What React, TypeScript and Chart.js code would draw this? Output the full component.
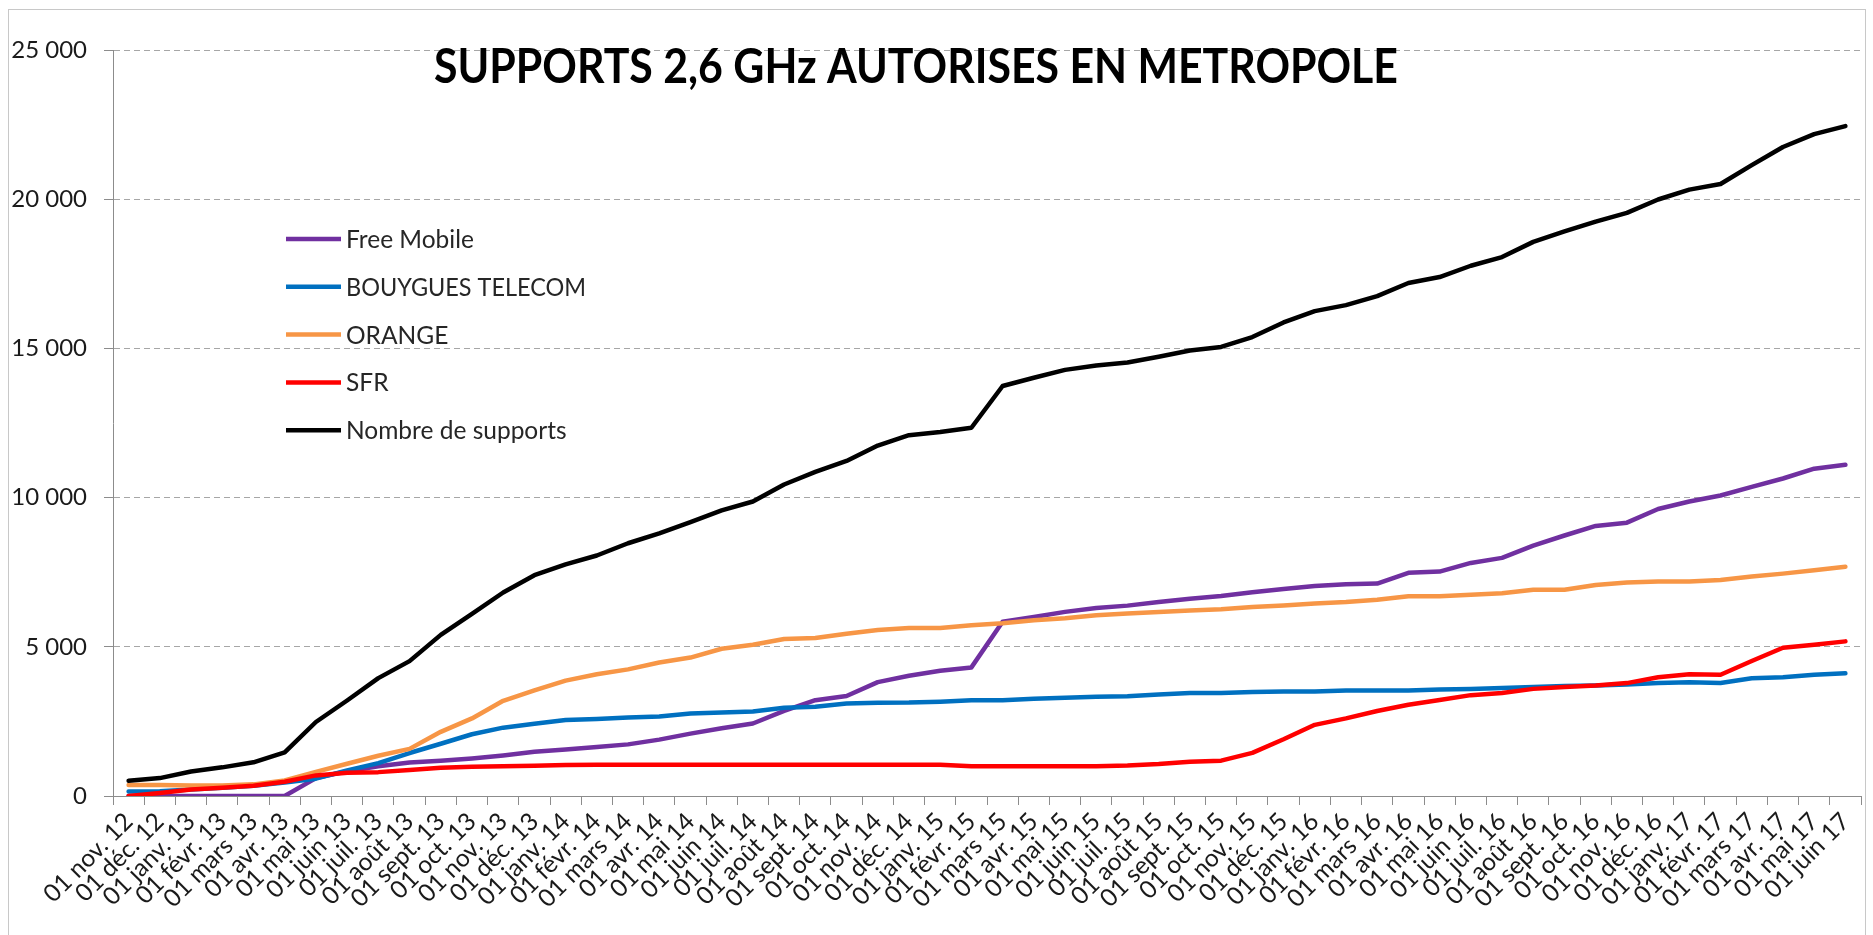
import React, { useEffect, useRef } from 'react';
import { Chart, registerables } from 'chart.js';

Chart.register(...registerables);

const LABELS = [
  '01 nov. 12', '01 déc. 12',
  '01 janv. 13', '01 févr. 13', '01 mars 13', '01 avr. 13', '01 mai 13', '01 juin 13',
  '01 juil. 13', '01 août 13', '01 sept. 13', '01 oct. 13', '01 nov. 13', '01 déc. 13',
  '01 janv. 14', '01 févr. 14', '01 mars 14', '01 avr. 14', '01 mai 14', '01 juin 14',
  '01 juil. 14', '01 août 14', '01 sept. 14', '01 oct. 14', '01 nov. 14', '01 déc. 14',
  '01 janv. 15', '01 févr. 15', '01 mars 15', '01 avr. 15', '01 mai 15', '01 juin 15',
  '01 juil. 15', '01 août 15', '01 sept. 15', '01 oct. 15', '01 nov. 15', '01 déc. 15',
  '01 janv. 16', '01 févr. 16', '01 mars 16', '01 avr. 16', '01 mai 16', '01 juin 16',
  '01 juil. 16', '01 août 16', '01 sept. 16', '01 oct. 16', '01 nov. 16', '01 déc. 16',
  '01 janv. 17', '01 févr. 17', '01 mars 17', '01 avr. 17', '01 mai 17', '01 juin 17',
];

const FREE_MOBILE = [
  0, 0, 0, 0, 0, 0, 600, 830, 1000, 1120, 1180, 1260, 1360, 1480,
  1560, 1640, 1730, 1890, 2090, 2270, 2430, 2850, 3210, 3350, 3816, 4030,
  4195, 4310, 5840, 6000, 6170, 6300, 6380, 6500, 6610, 6700, 6830, 6940,
  7040, 7100, 7120, 7480, 7520, 7810, 7980, 8390, 8730, 9050, 9160, 9620,
  9870, 10070, 10360, 10640, 10970, 11100,
];

const BOUYGUES = [
  150, 160, 220, 280, 340, 450, 580, 860, 1100, 1440, 1750, 2070, 2290, 2420,
  2550, 2583, 2632, 2665, 2764, 2797, 2829, 2961, 2994, 3100, 3126, 3130,
  3158, 3208, 3210, 3257, 3290, 3323, 3339, 3405, 3455, 3455, 3488, 3504,
  3504, 3537, 3537, 3537, 3570, 3586, 3619, 3652, 3690, 3701, 3734, 3783,
  3816, 3790, 3948, 3981, 4063, 4113,
];

const ORANGE = [
  370, 370, 350, 350, 390, 520, 810, 1080, 1350, 1580, 2150, 2600, 3190, 3540,
  3866, 4080, 4244, 4474, 4640, 4935, 5067, 5264, 5297, 5440, 5560, 5626,
  5630, 5725, 5790, 5890, 5955, 6054, 6119, 6169, 6218, 6260, 6333, 6383,
  6448, 6498, 6580, 6695, 6695, 6745, 6794, 6909, 6909, 7074, 7156, 7189,
  7189, 7238, 7353, 7452, 7567, 7682,
];

const SFR = [
  0, 100, 220, 280, 340, 480, 690, 780, 800, 870, 950, 980, 1000, 1010,
  1040, 1050, 1050, 1050, 1050, 1050, 1050, 1050, 1050, 1050, 1050, 1050,
  1050, 1000, 1000, 1000, 1000, 1000, 1020, 1070, 1150, 1184, 1447, 1900,
  2385, 2600, 2850, 3060, 3220, 3380, 3455, 3590, 3652, 3701, 3783, 3981,
  4080, 4063, 4524, 4968, 5067, 5182,
];

const TOTAL = [
  510, 600, 820, 960, 1130, 1460, 2480, 3200, 3950, 4520, 5400, 6100, 6820, 7400,
  7760, 8060, 8470, 8800, 9180, 9570, 9870, 10440, 10860, 11230, 11745, 12090,
  12200, 12340, 13740, 14015, 14280, 14430, 14525, 14720, 14930, 15050, 15380, 15870,
  16250, 16450, 16750, 17190, 17390, 17770, 18060, 18570, 18920, 19250, 19540, 19990,
  20320, 20510, 21140, 21750, 22180, 22450,
];

const SERIES_NAMES = ['Free Mobile', 'BOUYGUES TELECOM', 'ORANGE', 'SFR', 'Nombre de supports'];
const SERIES_COLORS = ['#7030A0', '#0070C0', '#F79646', '#FF0000', '#000000'];
const Y_TICKS = [0, 5000, 10000, 15000, 20000, 25000];
const TITLE = 'SUPPORTS 2,6 GHz AUTORISES EN METROPOLE';

const fmt = (v: number) => String(v).replace(/\B(?=(\d{3})+(?!\d))/g, ' ');

export default function App() {
  const ref = useRef<HTMLCanvasElement>(null);

  useEffect(() => {
    if (!ref.current) return;
    const values = [FREE_MOBILE, BOUYGUES, ORANGE, SFR, TOTAL];

    const overlay = {
      id: 'overlay',
      afterDraw(chart: any) {
        const ctx = chart.ctx;
        ctx.save();
        ctx.fillStyle = '#000';
        ctx.textBaseline = 'alphabetic';
        ctx.textAlign = 'left';
        ctx.font = 'bold 48px Lato';
        ctx.fillText(TITLE, 434, 83, 964);

        ctx.font = '24.5px Lato';
        ctx.textBaseline = 'middle';
        chart.data.datasets.forEach((ds: any, i: number) => {
          const y = 239 + i * 47.8;
          ctx.strokeStyle = ds.borderColor;
          ctx.lineWidth = 4.5;
          ctx.lineCap = 'butt';
          ctx.beginPath();
          ctx.moveTo(286, y);
          ctx.lineTo(341, y);
          ctx.stroke();
          ctx.fillStyle = '#262626';
          ctx.fillText(ds.label, 346, y + 1, ds.label.length > 12 ? 240 : 1000);
        });
        ctx.restore();
      },
    };

    const chart = new Chart(ref.current, {
      type: 'line',
      data: {
        labels: LABELS,
        datasets: SERIES_NAMES.map((name, i) => ({
          label: name,
          data: values[i],
          borderColor: SERIES_COLORS[i],
          backgroundColor: SERIES_COLORS[i],
          borderWidth: 4.5,
          pointRadius: 0,
          tension: 0,
          fill: false,
          order: 5 - i,
          borderCapStyle: 'round' as const,
          borderJoinStyle: 'round' as const,
        })),
      },
      options: {
        responsive: false,
        animation: false,
        layout: { padding: { top: 50, right: 12, bottom: 5, left: 0 } },
        plugins: {
          legend: { display: false },
          title: { display: false },
          tooltip: { enabled: false },
        },
        scales: {
          x: {
            offset: true,
            grid: {
              offset: true,
              drawOnChartArea: false,
              color: '#8c8c8c',
              tickLength: 9,
            },
            border: { color: '#8c8c8c', width: 1 },
            ticks: {
              autoSkip: false,
              maxRotation: 45,
              minRotation: 45,
              color: '#1a1a1a',
              padding: 2,
              font: { family: 'Lato', size: 24.5 },
            },
            afterFit: (s: any) => { s.height = 134; },
          },
          y: {
            min: 0,
            max: 25000,
            afterBuildTicks: (s: any) => { s.ticks = Y_TICKS.map((v) => ({ value: v })); },
            ticks: {
              stepSize: 5000,
              color: '#1a1a1a',
              padding: 17,
              font: { family: 'Lato', size: 24 },
              callback: (v: any) => fmt(Number(v)),
            },
            grid: {
              color: '#a6a6a6',
              tickLength: 9,
              tickColor: '#8c8c8c',
              tickBorderDash: [],
            },
            border: { color: '#8c8c8c', width: 1, dash: [6, 4] },
            afterFit: (s: any) => { s.width = 113; },
          },
        },
      } as any,
      plugins: [overlay],
    });
    return () => chart.destroy();
  }, []);

  return (
    <div style={{ position: 'absolute', left: 0, top: 0, width: 1873, height: 935, background: '#fff', overflow: 'hidden' }}>
      <canvas ref={ref} width={1873} height={935} style={{ display: 'block' }} />
      <div
        style={{
          position: 'absolute', left: 8, top: 9, width: 1858, height: 960,
          border: '1px solid #c8c8c8', boxSizing: 'border-box', pointerEvents: 'none',
        }}
      />
    </div>
  );
}
